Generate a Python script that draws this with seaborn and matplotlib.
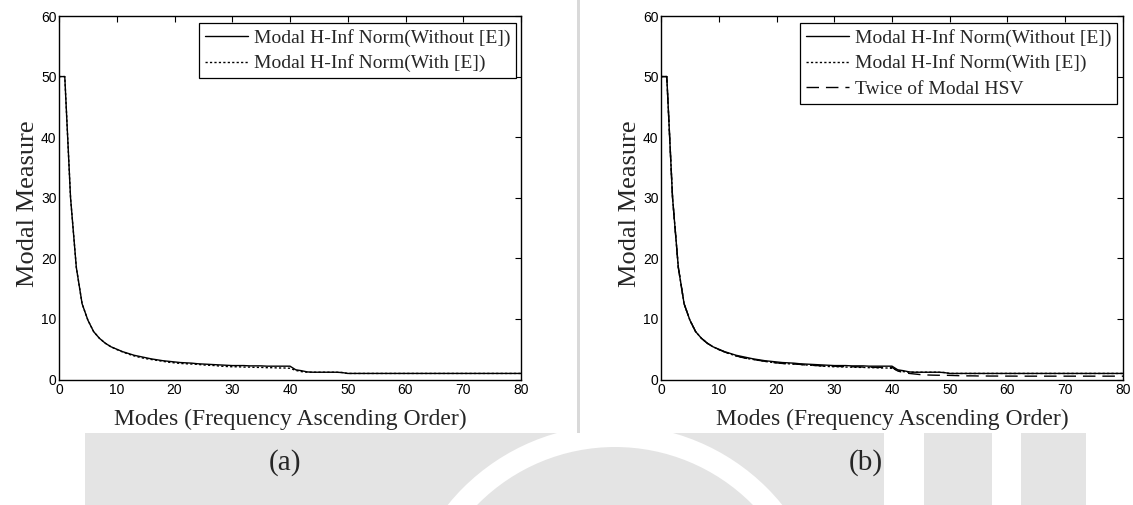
import numpy as np
import pandas as pd
import matplotlib
matplotlib.use("Agg")
import matplotlib.pyplot as plt
from matplotlib.patches import Rectangle, Wedge
import seaborn as sns

# ---------------- data ----------------
modes = list(range(0, 81))

norm_without_e = [50, 50, 30, 18.5, 12.5, 9.8, 7.9, 6.8, 6.0, 5.4,
                  5.0, 4.6, 4.3, 4.0, 3.8, 3.6, 3.4, 3.25, 3.1, 3.0,
                  2.9, 2.8, 2.75, 2.7, 2.6, 2.55, 2.5, 2.45, 2.4, 2.35,
                  2.3, 2.3, 2.3, 2.25, 2.25, 2.25, 2.2, 2.2, 2.2, 2.2,
                  2.2, 1.6, 1.45, 1.25, 1.2, 1.2, 1.2, 1.2, 1.2, 1.15,
                  1.0, 1.0, 1.0, 1.0, 1.0, 1.0, 1.0, 1.0, 1.0, 1.0,
                  1.0, 1.0, 1.0, 1.0, 1.0, 1.0, 1.0, 1.0, 1.0, 1.0,
                  1.0, 1.0, 1.0, 1.0, 1.0, 1.0, 1.0, 1.0, 1.0, 1.0,
                  1.0]

norm_with_e = [50, 50, 30, 18.5, 12.5, 9.8, 7.9, 6.8, 6.0, 5.4,
               4.95, 4.55, 4.2, 3.9, 3.65, 3.45, 3.3, 3.15, 3.0, 2.85,
               2.75, 2.65, 2.6, 2.55, 2.5, 2.4, 2.35, 2.3, 2.2, 2.15,
               2.1, 2.1, 2.05, 2.05, 2.0, 2.0, 1.95, 1.95, 1.9, 1.9,
               1.85, 1.5, 1.3, 1.2, 1.2, 1.2, 1.2, 1.2, 1.2, 1.15,
               1.0, 1.0, 1.0, 1.0, 1.0, 1.0, 1.0, 1.0, 1.0, 1.0,
               1.0, 1.0, 1.0, 1.0, 1.0, 1.0, 1.0, 1.0, 1.0, 1.0,
               1.0, 1.0, 1.0, 1.0, 1.0, 1.0, 1.0, 1.0, 1.0, 1.0,
               1.0]

twice_hsv = [50, 50, 30, 18.5, 12.5, 9.8, 7.9, 6.8, 6.0, 5.4,
             4.95, 4.55, 4.2, 3.9, 3.65, 3.45, 3.3, 3.15, 3.0, 2.85,
             2.75, 2.65, 2.6, 2.55, 2.5, 2.4, 2.35, 2.3, 2.25, 2.2,
             2.2, 2.15, 2.15, 2.1, 2.1, 2.05, 2.05, 2.0, 2.0, 2.0,
             2.0, 1.4, 1.15, 1.0, 0.9, 0.8, 0.75, 0.72, 0.7, 0.7,
             0.68, 0.65, 0.62, 0.6, 0.6, 0.58, 0.58, 0.57, 0.57, 0.56,
             0.56, 0.56, 0.55, 0.55, 0.55, 0.55, 0.55, 0.55, 0.55, 0.55,
             0.55, 0.55, 0.55, 0.55, 0.55, 0.55, 0.55, 0.55, 0.55, 0.55,
             0.55]

series_labels = ["Modal H-Inf Norm(Without [E])",
                 "Modal H-Inf Norm(With [E])",
                 "Twice of Modal HSV"]
x_ticks = [0, 10, 20, 30, 40, 50, 60, 70, 80]
y_ticks = [0, 10, 20, 30, 40, 50, 60]
x_label = "Modes (Frequency Ascending Order)"
y_label = "Modal Measure"
panel_labels = ["(a)", "(b)"]

# ---------------- style ----------------
sns.set_style("white")
plt.rcParams["font.family"] = ["Liberation Serif", "DejaVu Serif"]
plt.rcParams["lines.scale_dashes"] = False

W, H = 1133, 505
fig = plt.figure(figsize=(W / 100, H / 100), dpi=100)
fig.patch.set_facecolor("white")


def px_axes(x0, x1, ytop, ybot):
    return fig.add_axes([x0 / W, 1 - ybot / H, (x1 - x0) / W, (ybot - ytop) / H])


# background decoration (divider + faint watermark band)
bg = fig.add_axes([0, 0, 1, 1], zorder=-10)
bg.set_xlim(0, W)
bg.set_ylim(H, 0)
bg.axis("off")
bg.add_patch(Rectangle((85, 433), 1001, 72, color="#e4e4e4", lw=0))
bg.add_patch(Wedge((615, 640), 215, 180, 360, width=22, color="white", lw=0))
bg.add_patch(Rectangle((884, 433), 40, 72, color="white", lw=0))
bg.add_patch(Rectangle((992, 433), 29, 72, color="white", lw=0))
bg.add_patch(Rectangle((577, 0), 3, 433, color="#d9d9d9", lw=0))

styles = [
    dict(linestyle="-"),
    dict(linestyle=(0, (1.6, 1.6))),
    dict(linestyle=(0, (9, 5))),
]

panels = [
    (px_axes(59, 521, 16, 379.5), [norm_without_e, norm_with_e], 516),
    (px_axes(661, 1123, 16, 379.5), [norm_without_e, norm_with_e, twice_hsv], 1117),
]

for i, (ax, series, leg_right) in enumerate(panels):
    for j, vals in enumerate(series):
        df = pd.DataFrame({"mode": modes, "value": vals})
        sns.lineplot(data=df, x="mode", y="value", ax=ax, color="black",
                     lw=1.0, label=series_labels[j], legend=False, **styles[j])
    ax.set_xlim(0, 80)
    ax.set_ylim(0, 60)
    ax.set_xticks(x_ticks)
    ax.set_yticks(y_ticks)
    ax.set_xticklabels([str(t) for t in x_ticks], fontfamily="Liberation Sans", fontsize=10)
    ax.set_yticklabels([str(t) for t in y_ticks], fontfamily="Liberation Sans", fontsize=10)
    ax.tick_params(direction="in", top=True, right=True, length=4, width=0.8,
                   colors="black", pad=2.5)
    ax.tick_params(axis="y", pad=1.8)
    for sp in ax.spines.values():
        sp.set_visible(True)
        sp.set_color("black")
        sp.set_linewidth(1.0)
    ax.set_xlabel(x_label, fontsize=17)
    ax.xaxis.label.set_va("baseline")
    ax.xaxis.set_label_coords(0.5, -(425 - 379.5) / 363.5)
    ax.set_ylabel(y_label, fontsize=19)
    ax.yaxis.set_label_coords(-(59 - 39.5) / 462, 0.483)
    handles, labels = ax.get_legend_handles_labels()
    leg = ax.legend(handles, labels, loc="upper right",
                    bbox_to_anchor=(leg_right / W, 1 - 23 / H),
                    bbox_transform=fig.transFigure, borderaxespad=0,
                    fontsize=14, frameon=True, fancybox=False, framealpha=1,
                    edgecolor="black", handlelength=2.2, handletextpad=0.3,
                    labelspacing=0.4, borderpad=0.3)
    leg.get_frame().set_linewidth(0.9)

fig.text(285 / W, 1 - 463 / H, panel_labels[0], ha="center", va="center", fontsize=21)
fig.text(866 / W, 1 - 463 / H, panel_labels[1], ha="center", va="center", fontsize=21)

fig.savefig("out.png", dpi=100, facecolor="white")
